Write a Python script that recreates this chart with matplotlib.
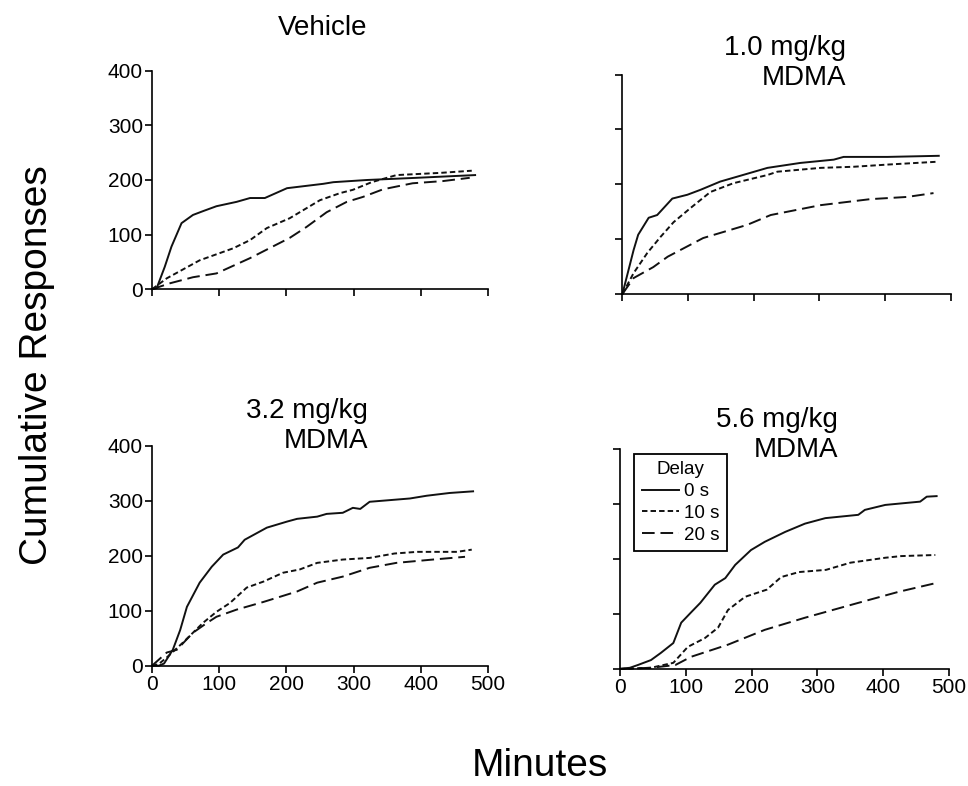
import matplotlib
matplotlib.use("Agg")
import matplotlib.pyplot as plt

plt.rcParams['font.family'] = ['Liberation Sans', 'DejaVu Sans']

# values (minutes, cumulative responses)
veh_x_0 = [0, 7, 19, 29, 44, 61, 76, 96, 126, 146, 168, 201, 255, 270, 320, 394, 481]
veh_y_0 = [0, 2, 41, 78, 121, 136, 143, 152, 160, 167, 167, 185, 193, 196, 200, 204, 209]
veh_x_10 = [0, 22, 71, 121, 146, 171, 205, 250, 280, 299, 327, 364, 429, 476]
veh_y_10 = [0, 20, 53, 75, 90, 112, 130, 163, 176, 182, 196, 209, 213, 217]
veh_x_20 = [0, 27, 61, 96, 146, 205, 230, 260, 290, 314, 344, 388, 433, 473]
veh_y_20 = [0, 11, 22, 29, 57, 94, 114, 141, 160, 169, 183, 194, 198, 204]

d10_x_0 = [0, 17, 24, 40, 53, 76, 99, 119, 149, 175, 221, 271, 322, 337, 404, 482]
d10_y_0 = [0, 80, 108, 139, 144, 174, 181, 190, 205, 214, 230, 239, 245, 250, 250, 252]
d10_x_10 = [0, 17, 38, 58, 78, 104, 134, 169, 221, 236, 302, 352, 404, 477]
d10_y_10 = [0, 38, 75, 104, 131, 157, 186, 202, 217, 223, 230, 232, 236, 241]
d10_x_20 = [0, 17, 47, 69, 123, 190, 226, 302, 378, 434, 474]
d10_y_20 = [0, 29, 49, 68, 102, 126, 144, 162, 173, 177, 184]

d32_x_0 = [0, 10, 18, 31, 42, 52, 71, 89, 106, 128, 138, 171, 201, 216, 246, 260, 284, 299, 310, 324, 384, 409, 443, 478]
d32_y_0 = [0, 0, 4, 29, 65, 107, 151, 180, 202, 215, 229, 251, 262, 267, 271, 276, 278, 287, 285, 298, 304, 309, 314, 317]
d32_x_10 = [0, 10, 22, 46, 76, 96, 116, 141, 166, 195, 220, 246, 284, 324, 361, 395, 454, 476]
d32_y_10 = [0, 3, 15, 42, 78, 98, 114, 142, 153, 169, 175, 187, 193, 196, 204, 207, 207, 211]
d32_x_20 = [0, 22, 37, 61, 82, 96, 126, 166, 216, 246, 284, 324, 364, 418, 466]
d32_y_20 = [0, 24, 29, 60, 78, 89, 102, 116, 135, 151, 162, 178, 187, 193, 198]

d56_x_0 = [0, 15, 27, 47, 62, 81, 93, 109, 122, 144, 160, 175, 199, 220, 251, 281, 312, 362, 372, 403, 456, 466, 481]
d56_y_0 = [0, 2, 7, 16, 29, 47, 84, 104, 120, 153, 165, 189, 216, 231, 249, 264, 274, 280, 289, 298, 304, 313, 314]
d56_x_10 = [0, 47, 81, 103, 129, 149, 164, 190, 223, 245, 272, 313, 350, 403, 427, 479]
d56_y_10 = [0, 2, 11, 40, 56, 75, 107, 131, 144, 167, 176, 180, 193, 202, 205, 207]
d56_x_20 = [0, 47, 84, 108, 164, 220, 281, 362, 423, 480]
d56_y_20 = [0, 2, 7, 22, 44, 71, 93, 120, 140, 156]

delay_labels = ['0 s', '10 s', '20 s']
styles = ['-', (0, (2.8, 1.6)), (0, (6.5, 3.0))]

fig = plt.figure(figsize=(9.68, 7.86), dpi=100)

panels = [
    ([0.157, 0.632, 0.347, 0.278], [(veh_x_0, veh_y_0), (veh_x_10, veh_y_10), (veh_x_20, veh_y_20)], False, True),
    ([0.643, 0.626, 0.339, 0.279], [(d10_x_0, d10_y_0), (d10_x_10, d10_y_10), (d10_x_20, d10_y_20)], False, False),
    ([0.157, 0.153, 0.347, 0.280], [(d32_x_0, d32_y_0), (d32_x_10, d32_y_10), (d32_x_20, d32_y_20)], True, True),
    ([0.6405, 0.149, 0.340, 0.280], [(d56_x_0, d56_y_0), (d56_x_10, d56_y_10), (d56_x_20, d56_y_20)], True, False),
]

axes = []
for rect, series, xlab, ylab in panels:
    ax = fig.add_axes(rect)
    for (x, y), ls, lab in zip(series, styles, delay_labels):
        ax.plot(x, y, color='#111111', lw=1.4, ls=ls, label=lab, clip_on=False)
    ax.set_xlim(0, 500)
    ax.set_ylim(0, 400)
    ax.set_xticks(range(0, 501, 100))
    ax.set_yticks(range(0, 401, 100))
    for s in ['top', 'right']:
        ax.spines[s].set_visible(False)
    for s in ['left', 'bottom']:
        ax.spines[s].set_linewidth(1.2)
    ax.tick_params(direction='out', length=5, width=1.2, labelsize=15, pad=1.5)
    if not xlab:
        ax.set_xticklabels([])
    if not ylab:
        ax.set_yticklabels([])
    axes.append(ax)

# multi-line titles: baseline of the last line is given
fig.text(0.333, 0.955, 'Vehicle', fontsize=20, ha='center', va='baseline')
fig.text(0.874, 0.892, '1.0 mg/kg\nMDMA', fontsize=20, ha='right', va='baseline', multialignment='right')
fig.text(0.380, 0.430, '3.2 mg/kg\nMDMA', fontsize=20, ha='right', va='baseline', multialignment='right')
fig.text(0.866, 0.419, '5.6 mg/kg\nMDMA', fontsize=20, ha='right', va='baseline', multialignment='right')

fig.text(0.038, 0.536, 'Cumulative Responses', fontsize=28, rotation=90, ha='center', va='center')
fig.text(0.558, 0.026, 'Minutes', fontsize=28, ha='center', va='center')

leg = axes[3].legend(title='Delay', loc='upper left', bbox_to_anchor=(0.043, 0.977),
                     borderaxespad=0, fontsize=13.5, title_fontsize=13.5, handlelength=2.0,
                     handletextpad=0.25, labelspacing=0.25, borderpad=0.4, fancybox=False,
                     framealpha=1, edgecolor='black')
leg.get_frame().set_linewidth(1.3)

fig.savefig('out.png', dpi=100)
